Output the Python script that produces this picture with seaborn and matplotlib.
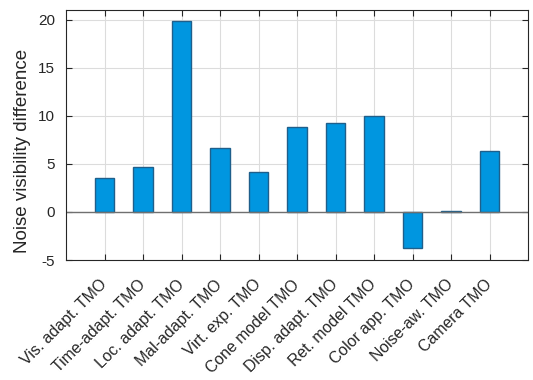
import matplotlib
matplotlib.use("Agg")
import matplotlib.pyplot as plt
import matplotlib.transforms as mtransforms
import seaborn as sns
import pandas as pd

methods = ["Vis. adapt. TMO", "Time-adapt. TMO", "Loc. adapt. TMO", "Mal-adapt. TMO",
           "Virt. exp. TMO", "Cone model TMO", "Disp. adapt. TMO", "Ret. model TMO",
           "Color app. TMO", "Noise-aw. TMO", "Camera TMO"]
visibility_diff = [3.5, 4.65, 19.9, 6.7, 4.13, 8.9, 9.24, 9.96, -3.72, 0.14, 6.32]
y_ticks = [-5, 0, 5, 10, 15, 20]

sns.set_theme(style="white")
plt.rcParams["font.family"] = ["Liberation Sans", "DejaVu Sans"]
plt.rcParams["axes.unicode_minus"] = False

df = pd.DataFrame({"method": methods, "diff": visibility_diff})

fig = plt.figure(figsize=(5.33, 3.8), dpi=100)
ax = fig.add_axes([66 / 533, 1 - 260 / 380, 462 / 533, 250 / 380])

sns.barplot(data=df, x="method", y="diff", ax=ax, width=0.51,
            color="#0096E0", saturation=1, edgecolor="#1F5F8B", linewidth=1.0)

ax.axhline(0, color="#707070", linewidth=1.0, zorder=1.5)
ax.set_xlim(-1, 11)
ax.set_ylim(-5, 21.04)
ax.set_yticks(y_ticks)
ax.set_xticks(range(len(methods)))
ax.set_xticklabels(methods, rotation=45, ha="right", va="center",
                   rotation_mode="anchor", fontsize=11.4, color="#262626")
# nudge the slanted category labels slightly left so their ends sit under the ticks
shift = mtransforms.ScaledTranslation(-4 / 100, 0, fig.dpi_scale_trans)
for lbl in ax.get_xticklabels():
    lbl.set_transform(lbl.get_transform() + shift)
ax.tick_params(axis="y", labelsize=11, labelcolor="#262626", pad=8)
ax.tick_params(axis="x", pad=16)
ax.tick_params(direction="in", length=4, color="#262626", top=True, right=True,
               left=True, bottom=True, width=0.8)
ax.set_xlabel("")
ax.set_ylabel("Noise visibility difference", fontsize=13.5, color="#262626")
ax.yaxis.set_label_coords(-0.076, 0.438)

ax.set_axisbelow(True)
ax.grid(True, color="#DCDCDC", linewidth=0.8)
for s in ax.spines.values():
    s.set_visible(True)
    s.set_color("#262626")
    s.set_linewidth(0.8)

fig.savefig("out.png", dpi=100)
